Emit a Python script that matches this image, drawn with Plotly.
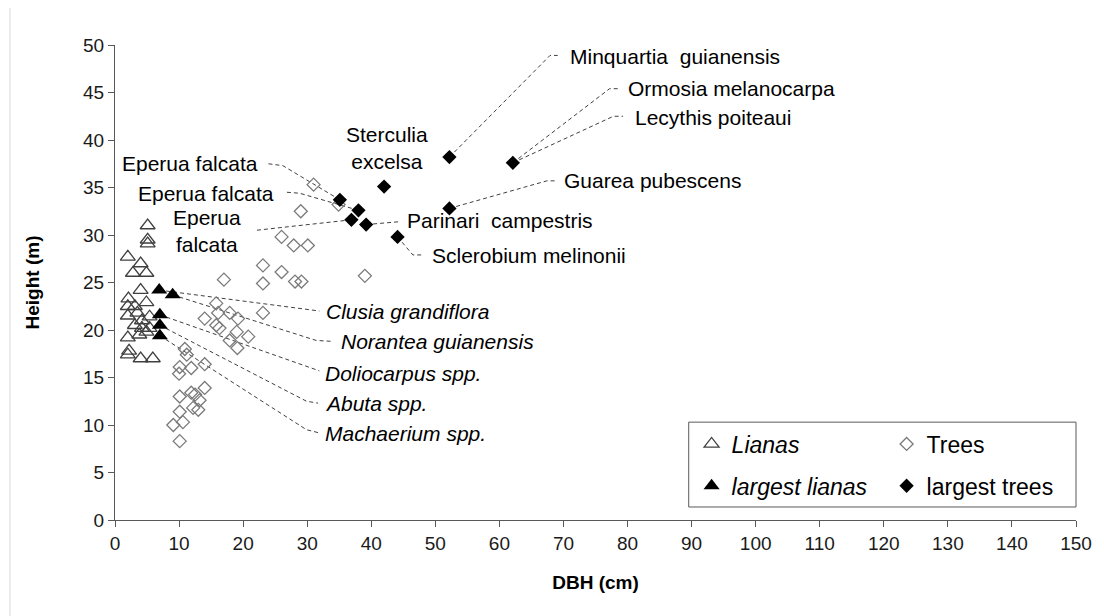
import plotly.graph_objects as go

# ---------------- data ----------------
lianas_dbh = [2.0, 4.0, 2.8, 4.9, 4.0, 2.1, 4.9, 2.0, 3.1, 2.0, 4.2, 5.4, 3.1, 4.2,
              5.4, 2.0, 4.9, 2.0, 4.0, 5.9, 5.1, 5.1, 5.1, 3.8, 2.2, 3.5]
lianas_h = [27.7, 27.0, 26.0, 26.0, 24.2, 23.3, 22.9, 22.5, 22.5, 21.5, 21.0, 21.4, 20.5, 20.2,
            20.2, 19.2, 19.8, 17.4, 17.0, 17.0, 31.0, 29.5, 29.1, 19.5, 17.8, 21.8]

trees_dbh = [31.0, 34.9, 29.0, 26.0, 27.9, 30.1, 23.1, 26.0, 23.1, 28.1, 29.1, 39.0, 17.0,
             15.8, 14.0, 16.1, 15.8, 17.9, 19.2, 23.1, 19.0, 20.8, 17.9, 19.1, 16.3,
             10.9, 11.2, 10.1, 11.9, 14.0, 10.0, 14.0, 10.1, 11.9, 13.2, 10.1, 12.2, 13.0,
             10.6, 9.1, 10.1, 12.5]
trees_h = [35.3, 33.2, 32.5, 29.8, 28.9, 28.9, 26.8, 26.1, 24.9, 25.1, 25.1, 25.7, 25.3,
           22.8, 21.2, 21.8, 20.5, 21.8, 21.2, 21.8, 19.8, 19.3, 18.9, 18.1, 20.2,
           18.0, 17.4, 16.1, 16.0, 16.4, 15.4, 13.9, 13.0, 13.4, 12.6, 11.4, 11.8, 11.6,
           10.3, 10.0, 8.3, 13.2]

big_lianas_dbh = [6.9, 9.0, 7.0, 7.0, 7.0]
big_lianas_h = [24.2, 23.7, 21.6, 20.5, 19.4]

big_trees_dbh = [35.1, 38.0, 36.9, 39.2, 42.0, 44.1, 52.2, 62.1, 52.2]
big_trees_h = [33.7, 32.6, 31.6, 31.1, 35.1, 29.8, 38.2, 37.6, 32.8]

# labels of the largest lianas (italic), index into big_lianas_*
liana_labels = ["Clusia grandiflora", "Norantea guianensis", "Doliocarpus spp.",
                "Abuta spp.", "Machaerium spp."]
liana_label_idx = [0, 1, 2, 3, 4]
liana_label_x = [32.6, 35.0, 32.5, 32.5, 32.4]
liana_label_y = [22.0, 18.8, 15.4, 12.3, 9.1]
liana_leader_x = [[31.9], [31.4, 34.0], [30.4, 31.9], [29.9, 31.7], [29.9, 31.7]]
liana_leader_y = [[22.0], [18.9, 18.8], [16.0, 15.7], [12.5, 12.3], [9.5, 9.2]]

# labels of the largest trees, index into big_trees_*
tree_labels = ["Minquartia\u00a0 guianensis", "Ormosia melanocarpa", "Lecythis poiteaui",
               "Guarea pubescens", "Parinari\u00a0 campestris", "Sclerobium melinonii",
               "Eperua falcata", "Eperua falcata", "Eperua<br>falcata", "Sterculia<br>excelsa"]
tree_label_idx = [6, 7, 7, 8, 3, 5, 0, 1, 2, 4]
tree_label_x = [70.7, 79.8, 80.8, 69.7, 45.2, 49.1, 22.6, 25.2, 14.3, 42.4]
tree_label_y = [48.8, 45.4, 42.4, 35.7, 31.5, 27.8, 37.5, 34.4, 30.45, 39.15]
tree_label_anchor = ["left", "left", "left", "left", "left", "left", "right", "right",
                     "center", "center"]
tree_leader_x = [[67.9, 69.1], [77.2, 78.5], [77.8, 79.3], [67.4, 68.7], [44.4],
                 [46.5, 47.8], [26.2, 23.9], [28.8, 26.8], [22.1], []]
tree_leader_y = [[48.9, 48.9], [45.4, 45.4], [42.5, 42.5], [35.7, 35.7], [31.4],
                 [27.9, 27.9], [37.3, 37.5], [34.4, 34.5], [30.5], []]

x_ticks = list(range(0, 151, 10))
y_ticks = list(range(0, 51, 5))

FONT = "Liberation Sans, Arial, sans-serif"
LABEL_SIZE = 21
LEGEND_SIZE = 23
AXIS_COL = "#595959"
LEADER_COL = "#404040"

fig = go.Figure()

# ---------------- leader lines ----------------
def add_leader(x0, y0, xs, ys):
    if not xs:
        return
    fig.add_trace(go.Scatter(
        x=[x0] + xs, y=[y0] + ys, mode="lines",
        line=dict(color=LEADER_COL, width=1, dash="4px,3px"),
        showlegend=False, hoverinfo="skip"))

for i, idx in enumerate(liana_label_idx):
    add_leader(big_lianas_dbh[idx], big_lianas_h[idx], liana_leader_x[i], liana_leader_y[i])
for i, idx in enumerate(tree_label_idx):
    add_leader(big_trees_dbh[idx], big_trees_h[idx], tree_leader_x[i], tree_leader_y[i])

# ---------------- markers ----------------
fig.add_trace(go.Scatter(
    x=lianas_dbh, y=lianas_h, mode="markers", name="<i>Lianas</i>", legend="legend",
    marker=dict(symbol="triangle-up-open", size=13, color="#404040", line=dict(width=1.3))))
fig.add_trace(go.Scatter(
    x=trees_dbh, y=trees_h, mode="markers", name="Trees", legend="legend",
    marker=dict(symbol="diamond-open", size=10, color="#7a7a7a", line=dict(width=1.3))))
fig.add_trace(go.Scatter(
    x=big_lianas_dbh, y=big_lianas_h, mode="markers", name="<i>largest lianas</i>",
    legend="legend2",
    marker=dict(symbol="triangle-up", size=14, color="#000000")))
fig.add_trace(go.Scatter(
    x=big_trees_dbh, y=big_trees_h, mode="markers", name="largest trees",
    legend="legend2",
    marker=dict(symbol="diamond", size=11, color="#000000")))

# ---------------- annotations ----------------
for i, txt in enumerate(liana_labels):
    fig.add_annotation(x=liana_label_x[i], y=liana_label_y[i], text="<i>" + txt + "</i>",
                       showarrow=False, xanchor="left", yanchor="middle",
                       font=dict(family=FONT, size=LABEL_SIZE, color="#000000"))
for i, txt in enumerate(tree_labels):
    fig.add_annotation(x=tree_label_x[i], y=tree_label_y[i], text=txt,
                       showarrow=False, xanchor=tree_label_anchor[i], yanchor="middle",
                       align="center",
                       font=dict(family=FONT, size=LABEL_SIZE, color="#000000"))

# ---------------- legend box and page frame ----------------
fig.add_shape(type="rect", xref="paper", yref="paper", x0=0.597, x1=1.0, y0=0.0274, y1=0.206,
              line=dict(color=AXIS_COL, width=1), fillcolor="rgba(0,0,0,0)", layer="below")
fig.add_shape(type="line", xref="paper", yref="paper", x0=-0.1093, x1=-0.1093, y0=-0.25, y1=1.2,
              line=dict(color="#d9d9d9", width=1))

legend_common = dict(orientation="h", xanchor="left", yanchor="middle",
                     entrywidth=150, entrywidthmode="pixels",
                     font=dict(family=FONT, size=LEGEND_SIZE, color="#000000"),
                     bgcolor="rgba(0,0,0,0)", borderwidth=0)

# the page body adds an 8px offset, so the figure is 8px smaller and margins compensate
fig.update_layout(
    width=1096, height=608,
    margin=dict(l=107, r=28, t=37, b=96, autoexpand=False),
    paper_bgcolor="white", plot_bgcolor="white",
    font=dict(family=FONT, color="#000000"),
    legend=dict(x=0.600, y=0.16, **legend_common),
    legend2=dict(x=0.600, y=0.072, **legend_common),
    xaxis=dict(range=[0, 150], tickvals=x_ticks, ticks="outside", ticklen=6,
               tickcolor=AXIS_COL, showline=True, linecolor=AXIS_COL, linewidth=1,
               showgrid=False, zeroline=False,
               tickfont=dict(family=FONT, size=19, color="#1a1a1a"),
               title=dict(text="<b>DBH (cm)</b>", standoff=22,
                          font=dict(family=FONT, size=19, color="#000000"))),
    yaxis=dict(range=[0, 50], tickvals=y_ticks, ticks="outside", ticklen=6,
               tickcolor=AXIS_COL, showline=True, linecolor=AXIS_COL, linewidth=1,
               showgrid=False, zeroline=False,
               tickfont=dict(family=FONT, size=19, color="#1a1a1a"),
               title=dict(text="<b>Height (m)</b>", standoff=38,
                          font=dict(family=FONT, size=19, color="#000000"))),
)

fig.write_html("out.html")
